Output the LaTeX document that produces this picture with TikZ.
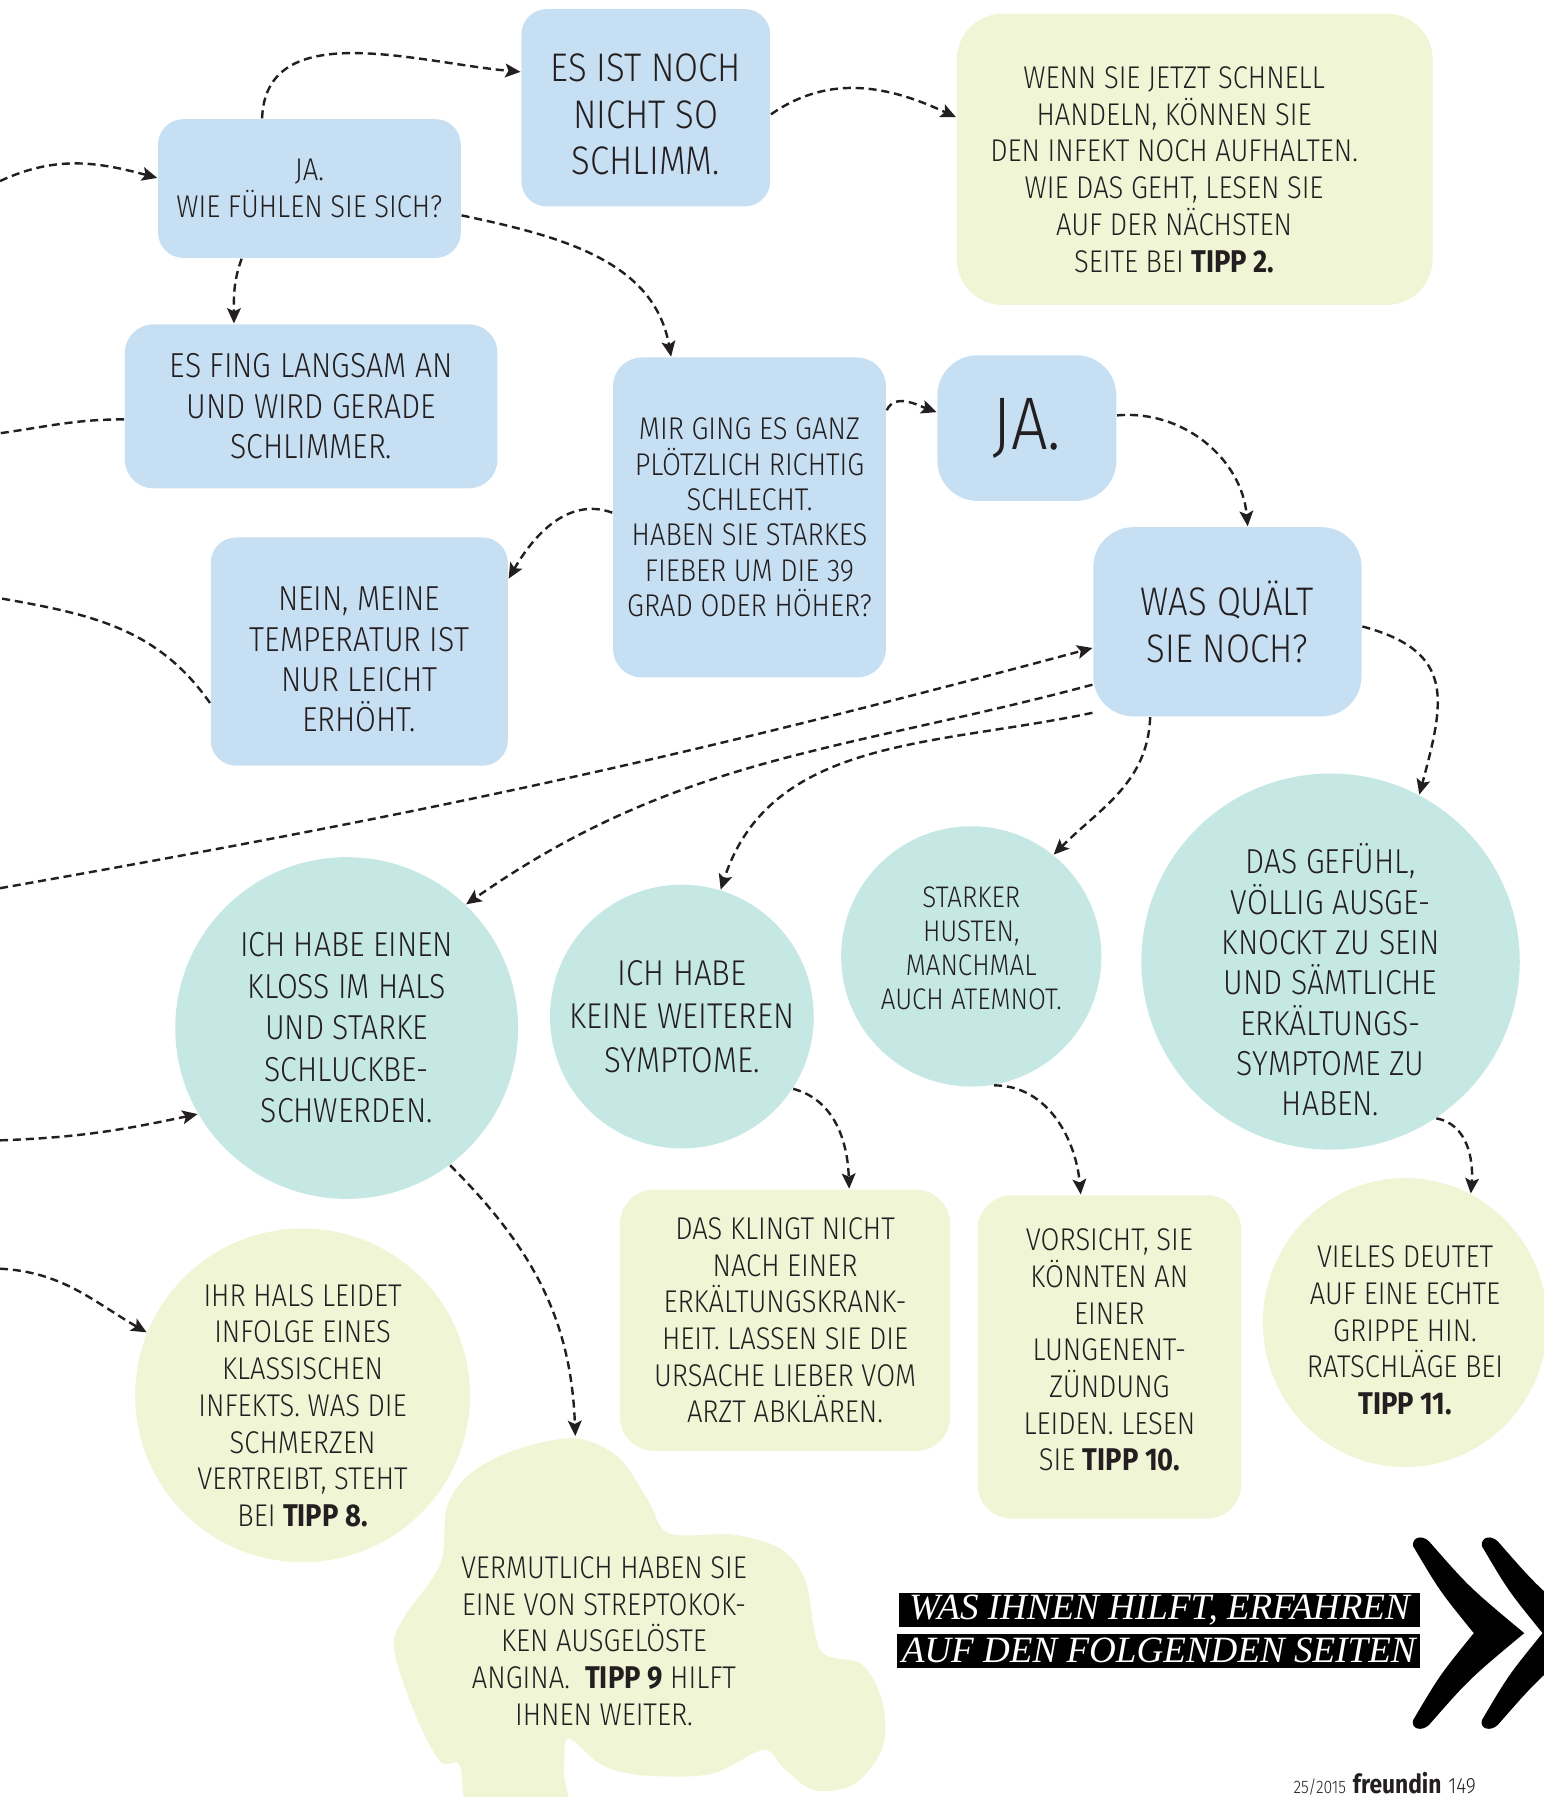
\documentclass[tikz,border=0pt]{standalone}
\usepackage{fontspec}
\setmainfont{Fira Sans Light}[FakeStretch=0.87, BoldFont={Fira Sans Bold}]
\newfontfamily\bannerfont{Liberation Serif}
\usetikzlibrary{arrows.meta,shapes.geometric}
\definecolor{qblue}{HTML}{C7DFF3}
\definecolor{qmint}{HTML}{C6E8E4}
\definecolor{qpale}{HTML}{F0F5D6}
\definecolor{ink}{HTML}{231F20}
\tikzset{
  words/.style={align=center, text=ink},
  askbox/.style={rectangle, fill=qblue, rounded corners=#1, words, inner sep=0pt},
  askbox/.default=0.22cm,
  tipbox/.style={rectangle, fill=qpale, rounded corners=#1, words, inner sep=0pt},
  tipbox/.default=0.3cm,
  symball/.style={ellipse, fill=qmint, inner sep=0pt},
  tipball/.style={ellipse, fill=qpale, inner sep=0pt},
  trail/.style={draw=ink, line width=0.6pt, dash pattern=on 2pt off 1.2pt},
  flow/.style={trail, -{Stealth[length=3.8pt,width=3.4pt,inset=0.8pt]}},
  fs/.style={font=\fontsize{7.8}{9.1}\selectfont},
  fm/.style={font=\fontsize{8.6}{10}\selectfont},
  fl/.style={font=\fontsize{9.9}{11.5}\selectfont},
  banner/.style={fill=black, text=white, inner xsep=0.04cm, inner ysep=0pt,
    minimum height=0.3cm, font=\bannerfont\fontsize{9.2}{10}\selectfont\itshape}
}

\begin{document}
\begin{tikzpicture}[x=0.01cm, y=-0.01cm]
  \useasboundingbox (0,0) rectangle (1347,1568);

  \node[askbox, minimum width=2.17cm, minimum height=1.72cm,
    label={[words,fl,yshift=-0.06cm]center:ES IST NOCH\\NICHT SO\\SCHLIMM.}] (bIst) at (563.5,94) {};
  \node[askbox, fs, minimum width=2.64cm, minimum height=1.21cm] (bJa) at (270,164.5)
    {JA.\\WIE FÜHLEN SIE SICH?};
  \node[tipbox=0.4cm, minimum width=4.15cm, minimum height=2.54cm,
    label={[words,fs,xshift=-0.18cm,yshift=-0.09cm]center:WENN SIE JETZT SCHNELL\\HANDELN, KÖNNEN SIE\\DEN INFEKT NOCH AUFHALTEN.\\WIE DAS GEHT, LESEN SIE\\AUF DER NÄCHSTEN\\SEITE BEI \textbf{TIPP 2.}}] (yWenn) at (1042.5,139) {};
  \node[askbox=0.25cm, fm, minimum width=3.25cm, minimum height=1.43cm] (bLangsam) at (271.5,354.5)
    {ES FING LANGSAM AN\\UND WIRD GERADE\\SCHLIMMER.};
  \node[askbox=0.25cm, font=\fontsize{7.8}{8.8}\selectfont, minimum width=2.38cm, minimum height=2.79cm] (bPlotz) at (654,451.5)
    {MIR GING ES GANZ\\PLÖTZLICH RICHTIG\\SCHLECHT.\\HABEN SIE STARKES\\FIEBER UM DIE 39\\GRAD ODER HÖHER?};
  \node[askbox=0.35cm, font=\fontsize{18.5}{19}\selectfont, minimum width=1.56cm, minimum height=1.27cm] (bJa2) at (896,373.5)
    {JA.};
  \node[askbox, minimum width=2.59cm, minimum height=1.99cm,
    label={[words,fm,yshift=-0.07cm]center:NEIN, MEINE\\TEMPERATUR IST\\NUR LEICHT\\ERHÖHT.}] (bNein) at (313.5,568.5) {};
  \node[askbox=0.35cm, fl, minimum width=2.34cm, minimum height=1.65cm] (bQual) at (1071,542.5)
    {WAS QUÄLT\\SIE NOCH?};

  \node[symball, minimum width=2.99cm, minimum height=2.98cm,
    label={[words,font=\fontsize{8.6}{10.3}\selectfont]center:ICH HABE EINEN\\KLOSS IM HALS\\UND STARKE\\SCHLUCKBE-\\SCHWERDEN.}] (cKloss) at (302.5,897) {};
  \node[symball, minimum size=2.3cm,
    label={[words,font=\fontsize{8.9}{10.8}\selectfont]center:ICH HABE\\KEINE WEITEREN\\SYMPTOME.}] (cKeine) at (595,887) {};
  \node[symball, minimum size=2.27cm,
    label={[words,font=\fontsize{7.4}{8.5}\selectfont,yshift=0.07cm]center:STARKER\\HUSTEN,\\MANCHMAL\\AUCH ATEMNOT.}] (cHusten) at (847.5,834.5) {};
  \node[symball, minimum width=3.3cm, minimum height=3.28cm,
    label={[words,fm,yshift=-0.16cm]center:DAS GEFÜHL,\\VÖLLIG AUSGE-\\KNOCKT ZU SEIN\\UND SÄMTLICHE\\ERKÄLTUNGS-\\SYMPTOME ZU\\HABEN.}] (cGefuehl) at (1161,839) {};

  \node[tipball, minimum width=2.92cm, minimum height=2.91cm,
    label={[words,fs,yshift=-0.09cm]center:IHR HALS LEIDET\\INFOLGE EINES\\KLASSISCHEN\\INFEKTS. WAS DIE\\SCHMERZEN\\VERTREIBT, STEHT\\BEI \textbf{TIPP 8.}}] (yHals) at (264,1217.5) {};
  \node[tipbox, fs, minimum width=2.88cm, minimum height=2.28cm] (yKlingt) at (685,1152)
    {DAS KLINGT NICHT\\NACH EINER\\ERKÄLTUNGSKRANK-\\HEIT. LASSEN SIE DIE\\URSACHE LIEBER VOM\\ARZT ABKLÄREN.};
  \node[tipbox, minimum width=2.3cm, minimum height=2.82cm,
    label={[words,fs,yshift=0.06cm]center:VORSICHT, SIE\\KÖNNTEN AN\\EINER\\LUNGENENT-\\ZÜNDUNG\\LEIDEN. LESEN\\SIE \textbf{TIPP 10.}}] (yVorsicht) at (968,1184) {};
  \node[tipball, minimum width=2.48cm, minimum height=2.52cm,
    label={[words,fs,yshift=-0.07cm]center:VIELES DEUTET\\AUF EINE ECHTE\\GRIPPE HIN.\\RATSCHLÄGE BEI\\\textbf{TIPP 11.}}] (yGrippe) at (1226,1154) {};

  \fill[qpale] plot[smooth cycle, tension=0.55] coordinates {(502,1255) (540,1272) (566,1310)
    (584,1338) (640,1339) (682,1352) (703,1380) (716,1440) (752,1452) (770,1485) (770,1525)
    (745,1557) (710,1562) (683,1542) (666,1527) (620,1548) (560,1549) (525,1540) (496,1517)
    (492,1545) (490,1580) (413,1580) (401,1540) (384,1537) (362,1495) (344,1440) (352,1412)
    (384,1365) (390,1315) (410,1286) (450,1265)};
  \node[words, fs] (angina) at (527,1432)
    {VERMUTLICH HABEN SIE\\EINE VON STREPTOKOK-\\KEN AUSGELÖSTE\\ANGINA.\ \ \textbf{TIPP 9} HILFT\\IHNEN WEITER.};
  \coordinate (bTop) at (502,1253);

  \coordinate (edgeA) at (0,158);
  \coordinate (edgeB) at (0,378);
  \coordinate (edgeC) at (0,522);
  \coordinate (edgeD) at (0,775);
  \coordinate (edgeE) at (0,995);
  \coordinate (edgeF) at (0,1107);

  \draw[flow] (edgeA) to[out=25,in=165] (bJa.176);
  \draw[flow] (bJa.124) to[out=88,in=175] (bIst.164);
  \draw[flow] (bIst.357) to[out=35,in=155] (yWenn.170);
  \draw[flow] (bJa.226) to[out=250,in=90] (bLangsam.133);
  \draw[flow] (bJa.350) to[out=-12,in=100] (bPlotz.116);
  \draw[trail] (bLangsam.184) to[out=180,in=8] (edgeB);
  \draw[flow] (bPlotz.178) to[out=160,in=60] (bNein.26);
  \draw[trail] (bNein.199) to[out=125,in=-10] (edgeC);
  \draw[flow] (bPlotz.38) to[out=65,in=160] (bJa2.170);
  \draw[flow] (bJa2.8) to[out=5,in=95] (bQual.78);
  \draw[flow] (edgeD) to[out=10,in=195] (bQual.191);
  \draw[flow] (bQual.205) to[out=195,in=35] (cKloss.46);
  \draw[flow] (bQual.214) to[out=192,in=72] (cKeine.73);
  \draw[flow] (bQual.231) to[out=268,in=45] (cHusten.51);
  \draw[flow] (bQual.358) to[out=-15,in=75,looseness=1.4] (cGefuehl.62);
  \draw[flow] (edgeE) to[out=2,in=192] (cKloss.210);
  \draw[flow] (cKloss.307) to[out=-45,in=92] (bTop);
  \draw[flow] (edgeF) to[out=-3,in=150] (yHals.158);
  \draw[flow] (cKeine.327) to[out=-15,in=92] (yKlingt.64);
  \draw[flow] (cHusten.280) to[out=0,in=95] (yVorsicht.100);
  \draw[flow] (cGefuehl.304) to[out=-10,in=85] (yGrippe.63);

  \node[banner, anchor=east, minimum width=4.55cm] (hint1) at (1240,1405) {WAS IHNEN HILFT, ERFAHREN};
  \node[banner, anchor=east, minimum width=4.45cm] (hint2) at (1240,1440.5) {AUF DEN FOLGENDEN SEITEN};
  \foreach \dx in {0,60}
    \fill[black, shift={(\dx,0)}] (1233,1349) .. controls (1232,1341) and (1241,1339) .. (1247,1345)
      .. controls (1282,1385) .. (1330,1425) .. controls (1282,1465) .. (1247,1505)
      .. controls (1241,1511) and (1231,1509) .. (1233,1501)
      .. controls (1256,1462) .. (1286,1425) .. controls (1256,1388) .. (1233,1349) -- cycle;

  \node[anchor=base west, text=ink, inner sep=0pt] (folio) at (1128,1565)
    {{\fontsize{4.5}{5}\selectfont 25/2015}\hspace{0.06cm}{\fontsize{6.5}{7}\selectfont\bfseries freundin}\hspace{0.06cm}{\fontsize{5.5}{6}\selectfont 149}};
\end{tikzpicture}
\end{document}
